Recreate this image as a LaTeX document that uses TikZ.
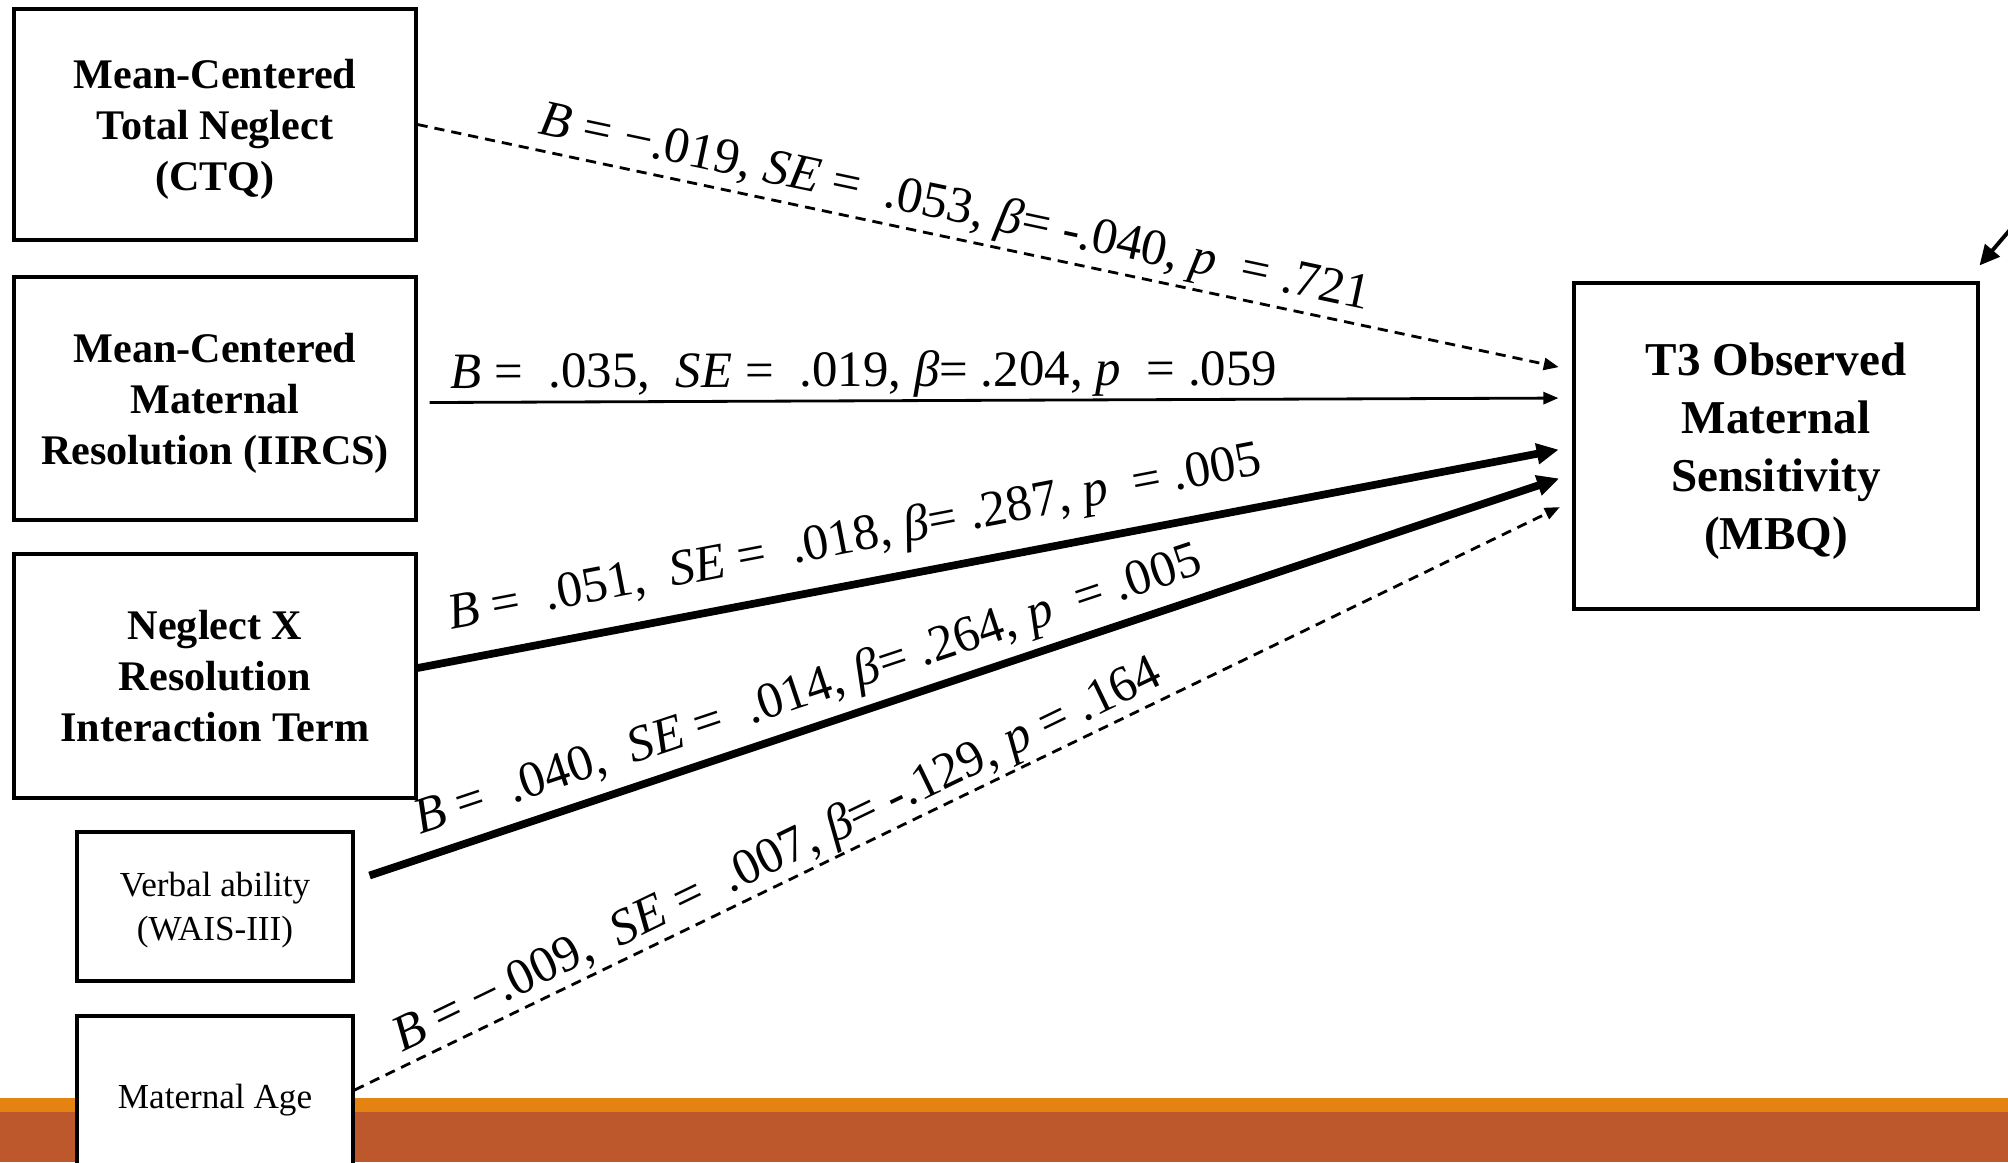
\documentclass[tikz,border=0pt]{standalone}
\usepackage{fontspec}
\setmainfont{Liberation Serif}
\usepackage{tikz}
\usetikzlibrary{arrows.meta}

\definecolor{barorange}{HTML}{E48312}
\definecolor{barrust}{HTML}{BD582C}

\tikzset{
  predictor/.style={rectangle, draw, line width=0.9pt, align=center, minimum width=4.02cm, text depth=0pt,
    font=\fontsize{12}{14.5}\selectfont\bfseries},
  covariate/.style={rectangle, draw, fill=white, line width=0.9pt, align=center, minimum width=2.76cm, text depth=0pt,
    font=\fontsize{10}{12.5}\selectfont},
  outcome/.style={rectangle, draw, line width=0.9pt, align=center, minimum width=4.04cm, minimum height=3.26cm,
    text depth=0pt, font=\fontsize{13.4}{16.5}\selectfont\bfseries},
  weakpath/.style={line width=0.8pt, shorten >=1.4mm, -{Triangle[length=1.5mm, width=1.2mm]}},
  nspath/.style={weakpath, dash pattern=on 2.9pt off 2pt},
  sigpath/.style={line width=2.2pt, shorten >=1.4mm, -{Triangle[length=2.2mm, width=2mm]}},
  coef/.style={sloped, inner sep=0pt, font=\fontsize{14.5}{16}\selectfont},
}

\begin{document}
\begin{tikzpicture}

\useasboundingbox (0,0) rectangle (20.08,-11.62);

% footer bar
\fill[barorange] (0,-10.98) rectangle (20.08,-11.13);
\fill[barrust] (0,-11.12) rectangle (20.08,-11.62);

\node[predictor, minimum height=2.31cm] (neglect) at (2.15,-1.245) {Mean-Centered\\Total Neglect\\(CTQ)};
\node[predictor, minimum height=2.43cm] (resol) at (2.15,-3.985) {Mean-Centered\\Maternal\\Resolution (IIRCS)};
\node[predictor, minimum height=2.44cm] (inter) at (2.15,-6.76) {Neglect X\\Resolution\\Interaction Term};
\node[covariate, minimum height=1.49cm] (verbal) at (2.15,-9.065) {Verbal ability\\(WAIS-III)};
\node[covariate, minimum height=1.6cm] (age) at (2.15,-10.96) {Maternal Age};
\node[outcome] (mbq) at (17.76,-4.46) {T3 Observed\\Maternal\\Sensitivity\\(MBQ)};

\coordinate (err) at (20.2,-2.18);

\draw[nspath] (neglect.east) -- ([yshift=7.6mm]mbq.west)
  node[coef, pos=0.46, above=0.4mm] {\textit{B} = −.019, \textit{SE} =\ \ .053, \textit{β}= -.040, \textit{p}\ \ = .721};
\draw[weakpath] ([xshift=1.2mm,yshift=-0.4mm]resol.east) -- ([yshift=4.8mm]mbq.west)
  node[coef, pos=0.38, above=0.2mm] {\textit{B} =\ \ .035,\ \ \textit{SE} =\ \ .019, \textit{β}= .204, \textit{p}\ \ = .059};
\draw[sigpath] ([yshift=0.8mm]inter.east) -- ([yshift=-0.1mm]mbq.west)
  node[coef, pos=0.386, above=1.7mm] {\textit{B} =\ \ .051,\ \ \textit{SE} =\ \ .018, \textit{β}= .287, \textit{p}\ \ = .005};
\draw[sigpath] ([xshift=1.5mm,yshift=3.1mm]verbal.east) -- ([yshift=-2.8mm]mbq.west)
  node[coef, pos=0.374, above=0.8mm] {\textit{B} =\ \ .040,\ \ \textit{SE} =\ \ .014, \textit{β}= .264, \textit{p}\ \ = .005};
\draw[nspath] ([yshift=0.6mm]age.east) -- ([yshift=-5.5mm]mbq.west)
  node[coef, pos=0.357, above=0.1mm] {\textit{B} = −.009,\ \ \textit{SE} =\ \ .007, \textit{β}= -.129, \textit{p} = .164};
\draw[line width=1.1pt, -{Triangle[length=2mm, width=1.9mm]}] (err) -- ([yshift=1.6mm]mbq.north east);

\end{tikzpicture}
\end{document}
